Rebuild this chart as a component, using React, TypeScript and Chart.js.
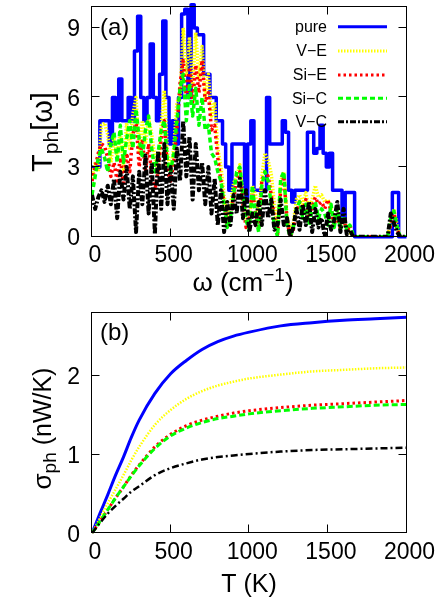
import React, { useEffect, useRef } from 'react';
import { Chart, registerables } from 'chart.js';
Chart.register(...registerables);

// ---------- panel (a): phonon transmission spectrum, sampled every 20 cm^-1 ----------
const OMEGA_STEP = 20;
const PURE = [
  3, 3, 3, 5, 5, 5, 4, 6, 5, 6.8,
  5, 5, 6, 5, 8, 9.5, 6, 5, 6, 8.3,
  6, 5, 7, 9.3, 6, 4, 5, 4, 6, 9.6,
  9.8, 6, 10, 9, 8.7, 8.7, 7, 7, 6, 6,
  5, 5, 4, 3, 2, 4, 4, 4, 4, 1.5,
  4, 5, 2, 2, 2, 2, 6, 4, 4, 4,
  4, 5, 4.5, 2, 1.5, 2, 2, 2, 2, 4.5,
  4.5, 3.6, 3.8, 4.8, 3.6, 3, 3.6, 2, 2, 2,
  0.8, 1.9, 1.9, 1.9, 0, 0, 0, 0, 0, 0,
  0, 0, 0, 0, 0, 0, 1.9, 1.9, 0, 0,
  0,
];
const VE = [
  2.5, 3.2, 2.8, 4.8, 4.9, 4.4, 3.2, 4.3, 3.4, 4.6,
  2.9, 4.9, 3.8, 5.3, 6.0, 3.6, 5.0, 4.0, 5.1, 4.4,
  3.4, 2.7, 4.8, 6.3, 3.6, 2.9, 3.8, 5.8, 6.0, 9.0,
  7.0, 8.6, 6.5, 8.8, 6.8, 8.2, 6.0, 7.0, 5.2, 5.8,
  3.8, 3.0, 1.8, 0.8, 1.3, 2.3, 2.6, 3.1, 1.8, 0.8,
  0.5, 2.2, 1.8, 0.8, 2.6, 3.6, 3.3, 2.7, 1.4, 0.4,
  2.4, 2.8, 0.9, 0.2, 0.6, 1.6, 1.8, 1.4, 1.9, 1.2,
  1.6, 2.2, 1.7, 1.8, 1.5, 1.6, 1.2, 0.7, 1.1, 0.5,
  0.8, 0.4, 0.2, 0, 0, 0, 0, 0, 0, 0,
  0, 0, 0, 0, 0, 0.6, 1.2, 0.5, 0, 0,
  0,
];
const SIE = [
  2.4, 3.0, 3.6, 4.0, 3.9, 3.4, 2.6, 3.2, 2.4, 3.4,
  2.2, 3.6, 2.8, 4.4, 5.0, 3.0, 4.2, 2.8, 4.0, 2.6,
  2.0, 2.8, 4.2, 5.0, 2.8, 2.4, 3.2, 4.6, 6.6, 7.6,
  6.0, 7.3, 5.8, 7.4, 6.2, 7.6, 5.8, 6.2, 4.6, 4.8,
  3.4, 2.4, 1.4, 0.4, 1.0, 1.6, 2.5, 2.8, 1.4, 0.4,
  0.8, 2.0, 1.0, 0.4, 2.4, 2.8, 2.6, 1.8, 0.8, 0.1,
  2.0, 2.6, 0.7, 0.0, 0.3, 1.0, 1.5, 1.1, 1.6, 0.7,
  1.3, 1.7, 1.4, 1.5, 1.2, 1.6, 1.1, 0.5, 1.0, 0.3,
  0.8, 0.2, 0.5, 0, 0, 0, 0, 0, 0, 0,
  0, 0, 0, 0, 0, 0.5, 1.0, 0.3, 0, 0,
  0,
];
const SIC = [
  1.8, 2.6, 3.4, 3.8, 3.4, 2.8, 4.0, 4.5, 3.2, 4.8,
  3.2, 4.2, 5.0, 3.8, 5.5, 4.2, 3.4, 4.6, 5.2, 3.8,
  2.8, 3.6, 4.6, 5.0, 3.2, 2.8, 3.6, 5.0, 6.4, 7.0,
  5.0, 6.6, 5.2, 6.4, 4.8, 6.0, 4.6, 4.8, 3.6, 3.4,
  2.8, 2.4, 1.4, 0.4, 0.8, 1.8, 2.8, 3.0, 1.8, 0.7,
  0.3, 2.2, 0.9, 0.2, 2.2, 2.8, 2.4, 1.4, 0.5, 0.0,
  2.5, 2.8, 0.5, 0.0, 0.4, 1.2, 1.5, 0.8, 1.4, 0.5,
  1.2, 1.5, 0.8, 1.2, 1.0, 0.5, 1.4, 0.4, 1.2, 0.3,
  0.9, 0.3, 0.5, 0.1, 0, 0, 0, 0, 0, 0,
  0, 0, 0, 0, 0, 0.8, 1.1, 0.4, 0, 0,
  0,
];
const VC = [
  1.8, 1.2, 1.7, 2.0, 1.5, 2.2, 1.4, 2.5, 0.8, 2.8,
  1.6, 3.0, 1.2, 2.6, 0.2, 2.8, 1.4, 3.5, 1.0, 3.2,
  0.1, 3.7, 1.2, 4.0, 1.4, 3.0, 1.2, 3.8, 2.4, 5.0,
  2.6, 4.3, 1.6, 4.0, 2.0, 3.2, 1.4, 3.0, 1.0, 2.5,
  0.5, 2.0, 0.2, 1.5, 0.5, 1.8, 1.0, 2.5, 0.8, 2.0,
  0.2, 1.0, 0.5, 1.5, 0.5, 2.0, 0.8, 1.6, 0.3, 0.5,
  1.6, 0.5, 0.8, 0.0, 0.4, 1.2, 0.3, 1.4, 0.5, 1.5,
  0.2, 1.2, 0.4, 0.8, 0.0, 1.0, 0.3, 0.7, 1.5, 0.2,
  1.2, 0.1, 0.3, 0, 0, 0, 0, 0, 0, 0,
  0, 0, 0, 0, 0, 1.0, 0.6, 0.2, 0, 0,
  0,
];
const OMEGA = PURE.map((_, i) => i * OMEGA_STEP);

// ---------- panel (b): thermal conductance vs temperature ----------
const TEMP = [0, 50, 100, 150, 200, 250, 300, 400, 500, 600, 700, 800, 900, 1000, 1200, 1400, 1600, 1800, 2000];
const SIG_PURE = [0, 0.25, 0.49, 0.74, 0.97, 1.22, 1.44, 1.78, 2.03, 2.2, 2.34, 2.44, 2.51, 2.56, 2.64, 2.68, 2.71, 2.73, 2.75];
const SIG_VE = [0, 0.19, 0.38, 0.56, 0.74, 0.93, 1.1, 1.38, 1.57, 1.71, 1.81, 1.88, 1.93, 1.97, 2.02, 2.06, 2.08, 2.1, 2.11];
const SIG_SIE = [0, 0.15, 0.3, 0.45, 0.59, 0.74, 0.87, 1.1, 1.26, 1.37, 1.44, 1.49, 1.53, 1.56, 1.6, 1.63, 1.65, 1.67, 1.69];
const SIG_SIC = [0, 0.15, 0.3, 0.45, 0.59, 0.73, 0.86, 1.08, 1.24, 1.34, 1.41, 1.46, 1.49, 1.52, 1.56, 1.59, 1.61, 1.63, 1.64];
const SIG_VC = [0, 0.13, 0.25, 0.35, 0.44, 0.53, 0.6, 0.74, 0.83, 0.89, 0.94, 0.97, 0.99, 1.01, 1.04, 1.06, 1.07, 1.08, 1.09];

const X_TICKS = [0, 500, 1000, 1500, 2000];
const YA_TICKS = [0, 3, 6, 9];
const YB_TICKS = [0, 1, 2];
const NAMES = ['pure', 'V\u2212E', 'Si\u2212E', 'Si\u2212C', 'V\u2212C'];

const FONT = '"Liberation Sans", Arial, Helvetica, sans-serif';
const COLORS = ['#0000ff', '#ffff00', '#ff0000', '#00ff00', '#000000'];
const DASH_A = [[], [1.5, 1.5], [2.5, 3], [5, 3], [6, 2, 2, 2]];
const DASH_B = [[], [1.5, 1.5], [2.5, 3], [6, 3], [7, 3, 2, 3]];
const WIDTH_A = [3.5, 3.5, 3.5, 3.5, 4];
const WIDTH_B = [3, 2.5, 3, 3, 2.5];

type Part = { t: string; size: number; dy: number };

function richWidth(ctx: CanvasRenderingContext2D, parts: Part[]) {
  let w = 0;
  for (const p of parts) {
    ctx.font = `${p.size}px ${FONT}`;
    w += ctx.measureText(p.t).width;
  }
  return w;
}
function drawRich(ctx: CanvasRenderingContext2D, parts: Part[], cx: number, y: number) {
  let x = cx - richWidth(ctx, parts) / 2;
  ctx.textAlign = 'left';
  ctx.textBaseline = 'alphabetic';
  for (const p of parts) {
    ctx.font = `${p.size}px ${FONT}`;
    ctx.fillText(p.t, x, y + p.dy);
    x += ctx.measureText(p.t).width;
  }
}

type PanelCfg = {
  id: string;
  yTicks: number[];
  label: string;
  labelDy: number;
  xTitle: Part[];
  xTitleDy: number;
  xTitleCx: number;
  yTitle: Part[];
  yTitleCy: number;
  yTitleX: number;
  legend: boolean;
  dashes: number[][];
};

const TICK_FS = 23;
const TL = 8;

function panelPlugin(cfg: PanelCfg) {
  return {
    id: 'panel' + cfg.id,
    afterDatasetsDraw(chart: any) {
      const ctx: CanvasRenderingContext2D = chart.ctx;
      const { left, right, top, bottom } = chart.chartArea;
      const xs = chart.scales.x;
      const ys = chart.scales.y;
      const L = Math.round(left) - 0.5;
      const R = Math.round(right) - 0.5;
      const T = Math.round(top) - 0.5;
      const B = Math.round(bottom) - 0.5;
      ctx.save();
      ctx.strokeStyle = '#000';
      ctx.lineWidth = 1;
      ctx.setLineDash([]);
      ctx.strokeRect(L, T, R - L, B - T);
      ctx.beginPath();
      for (const v of X_TICKS) {
        const px = Math.round(xs.getPixelForValue(v)) - 0.5;
        ctx.moveTo(px, B); ctx.lineTo(px, B - TL);
        ctx.moveTo(px, T); ctx.lineTo(px, T + TL);
      }
      for (const v of cfg.yTicks) {
        const py = Math.round(ys.getPixelForValue(v)) - 0.5;
        ctx.moveTo(L, py); ctx.lineTo(L + TL, py);
        ctx.moveTo(R, py); ctx.lineTo(R - TL, py);
      }
      ctx.stroke();

      ctx.fillStyle = '#000';
      ctx.font = `${TICK_FS}px ${FONT}`;
      ctx.textBaseline = 'alphabetic';
      ctx.textAlign = 'center';
      for (const v of X_TICKS) {
        ctx.fillText(String(v), xs.getPixelForValue(v) + 3, bottom + 25.5);
      }
      ctx.textAlign = 'right';
      for (const v of cfg.yTicks) {
        ctx.fillText(String(v), left - 12, ys.getPixelForValue(v) + 8.2);
      }

      // panel label
      ctx.textAlign = 'left';
      ctx.font = `24px ${FONT}`;
      ctx.fillText(cfg.label, left + 8, top + cfg.labelDy);

      // x title
      drawRich(ctx, cfg.xTitle, cfg.xTitleCx, bottom + cfg.xTitleDy);

      // y title (rotated)
      ctx.save();
      ctx.translate(cfg.yTitleX, cfg.yTitleCy);
      ctx.rotate(-Math.PI / 2);
      drawRich(ctx, cfg.yTitle, 0, 0);
      ctx.restore();

      if (cfg.legend) {
        const rows = [26.7, 51, 75, 98.3, 121.7];
        ctx.font = `16px ${FONT}`;
        ctx.textAlign = 'right';
        ctx.textBaseline = 'middle';
        NAMES.forEach((n, i) => {
          ctx.fillStyle = '#000';
          ctx.fillText(n, 327, rows[i] + 1);
          ctx.beginPath();
          ctx.strokeStyle = COLORS[i];
          ctx.lineWidth = 3;
          ctx.setLineDash(cfg.dashes[i]);
          ctx.moveTo(338, rows[i]);
          ctx.lineTo(387, rows[i]);
          ctx.stroke();
        });
        ctx.setLineDash([]);
      }
      ctx.restore();
    },
  };
}

function makeScales(ymax: number, xHeight: number) {
  return {
    x: {
      type: 'linear' as const,
      min: 0,
      max: 2000,
      ticks: { display: false },
      grid: { display: false, drawTicks: false },
      border: { display: false },
      afterFit: (s: any) => { s.height = xHeight; },
    },
    y: {
      type: 'linear' as const,
      min: 0,
      max: ymax,
      ticks: { display: false },
      grid: { display: false, drawTicks: false },
      border: { display: false },
      afterFit: (s: any) => { s.width = 92; },
    },
  };
}

export default function App() {
  const refA = useRef<HTMLCanvasElement>(null);
  const refB = useRef<HTMLCanvasElement>(null);

  useEffect(() => {
    const spectra = [PURE, VE, SIE, SIC, VC];
    const chartA = new Chart(refA.current as HTMLCanvasElement, {
      type: 'line',
      data: {
        datasets: spectra.map((arr, i) => ({
          label: NAMES[i],
          data: arr.map((v, k) => ({ x: OMEGA[k], y: v })),
          borderColor: COLORS[i],
          borderWidth: WIDTH_A[i],
          borderDash: DASH_A[i],
          borderCapStyle: 'butt' as const,
          borderJoinStyle: 'round' as const,
          pointRadius: 0,
          fill: false,
          tension: 0,
          stepped: i === 0 ? ('middle' as const) : false,
          clip: i === 0 ? false : undefined,
          order: 5 - i,
        })) as any,
      },
      options: {
        responsive: false,
        animation: false,
        events: [],
        layout: { padding: { top: 7, right: 29.5, left: 0, bottom: 0 } },
        plugins: { legend: { display: false }, tooltip: { enabled: false } },
        scales: makeScales(9.9, 300 - 236.7) as any,
      },
      plugins: [
        panelPlugin({
          id: 'a',
          yTicks: YA_TICKS,
          label: '(a)',
          labelDy: 28,
          xTitle: [
            { t: '\u03c9 (cm', size: 26, dy: 0 },
            { t: '\u22121', size: 19, dy: -10 },
            { t: ')', size: 26, dy: 0 },
          ],
          xTitleDy: 54,
          xTitleCx: 243,
          yTitle: [
            { t: 'T', size: 29, dy: 0 },
            { t: 'ph', size: 21, dy: 6 },
            { t: '[\u03c9]', size: 29, dy: 0 },
          ],
          yTitleCy: 132,
          yTitleX: 52,
          legend: true,
          dashes: DASH_A,
        }),
      ],
    });

    const sig = [SIG_PURE, SIG_VE, SIG_SIE, SIG_SIC, SIG_VC];
    const chartB = new Chart(refB.current as HTMLCanvasElement, {
      type: 'line',
      data: {
        datasets: sig.map((arr, i) => ({
          label: NAMES[i],
          data: arr.map((v, k) => ({ x: TEMP[k], y: v })),
          borderColor: COLORS[i],
          borderWidth: WIDTH_B[i],
          borderDash: DASH_B[i],
          borderCapStyle: 'butt' as const,
          pointRadius: 0,
          fill: false,
          cubicInterpolationMode: 'monotone' as const,
          order: 5 - i,
        })) as any,
      },
      options: {
        responsive: false,
        animation: false,
        events: [],
        layout: { padding: { top: 13.3, right: 29.5, left: 0, bottom: 0 } },
        plugins: { legend: { display: false }, tooltip: { enabled: false } },
        scales: makeScales(2.8, 310 - 233.3) as any,
      },
      plugins: [
        panelPlugin({
          id: 'b',
          yTicks: YB_TICKS,
          label: '(b)',
          labelDy: 27,
          xTitle: [{ t: 'T (K)', size: 25, dy: 0 }],
          xTitleDy: 58.5,
          xTitleCx: 249,
          yTitle: [
            { t: '\u03c3', size: 26, dy: 0 },
            { t: 'ph', size: 19, dy: 5 },
            { t: ' (nW/K)', size: 25, dy: 0 },
          ],
          yTitleCy: 128.5,
          yTitleX: 51,
          legend: false,
          dashes: DASH_B,
        }),
      ],
    });

    return () => {
      chartA.destroy();
      chartB.destroy();
    };
  }, []);

  return (
    <div style={{ position: 'absolute', left: 0, top: 0, width: 436, height: 610, background: '#fff' }}>
      <canvas ref={refA} width={436} height={300} style={{ position: 'absolute', left: 0, top: 0, width: 436, height: 300 }} />
      <canvas ref={refB} width={436} height={310} style={{ position: 'absolute', left: 0, top: 300, width: 436, height: 310 }} />
    </div>
  );
}
